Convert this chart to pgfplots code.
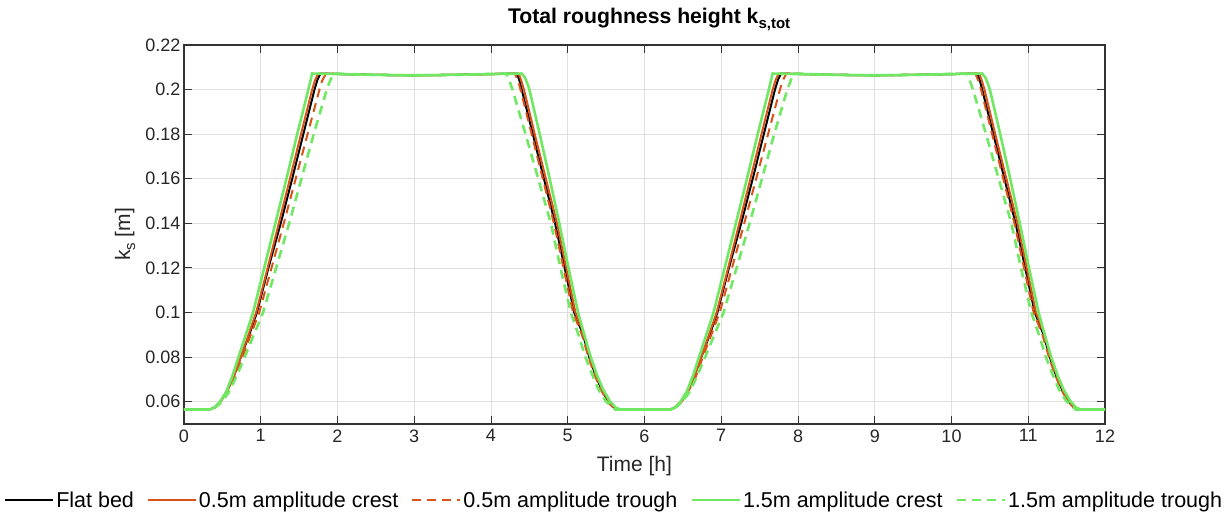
\documentclass[border=0pt]{standalone}
\usepackage{fontspec}
\setmainfont{Liberation Sans}
\usepackage{pgfplots}
\pgfplotsset{compat=1.18}
\definecolor{morange}{rgb}{0.85,0.325,0.098}
\definecolor{lgreen}{RGB}{112,232,100}
\definecolor{gridc}{RGB}{223,223,223}
\newcommand{\msub}[2]{\raisebox{-0.45ex}{\fontsize{#1}{#1}\selectfont #2}}
\begin{document}
\begin{tikzpicture}
\useasboundingbox (-184pt,-92pt) rectangle (1044pt,424pt);
\begin{axis}[
  at={(0,0)}, anchor=south west,
  scale only axis, width=921pt, height=379pt,
  xmin=0, xmax=12, ymin=0.05, ymax=0.22,
  xtick={0,1,2,3,4,5,6,7,8,9,10,11,12},
  ytick={0.06,0.08,0.10,0.12,0.14,0.16,0.18,0.20,0.22},
  yticklabels={0.06,0.08,0.1,0.12,0.14,0.16,0.18,0.2,0.22},
  /pgf/number format/assume math mode=true,
  grid=major, major grid style={draw=gridc, line width=0.8pt},
  tick align=inside, major tick length=8pt,
  axis line style={draw=black!80, line width=1.1pt},
  every tick/.style={draw=black!80, line width=1pt},
  ticklabel style={font=\fontsize{18}{20}\selectfont, text=black!85},
  xticklabel style={yshift=-2pt},
  xlabel={Time [h]},
  xlabel style={at={(axis description cs:0.489,-0.111)}, anchor=center, font=\fontsize{21}{23}\selectfont, text=black!85},
  ylabel={k\msub{15}{s} [m]},
  ylabel style={at={(axis description cs:-0.064,0.5)}, anchor=center, font=\fontsize{21}{23}\selectfont, text=black!85},
  title={\textbf{Total roughness height k\msub{15}{s,tot}}},
  title style={at={(axis description cs:0.505,1.040)}, anchor=base, font=\fontsize{21.2}{23}\selectfont},
  legend columns=5,
  legend style={draw=none, fill=none, at={(axis description cs:0.466,-0.2005)}, anchor=center,
    font=\fontsize{21.5}{23}\selectfont,
    nodes={inner xsep=0pt, inner ysep=1pt},
    /tikz/every odd column/.append style={column sep=2pt},
    /tikz/every even column/.append style={column sep=13pt}},
  legend image code/.code={\draw[#1] (0pt,0pt) -- (48pt,0pt);},
]
% Flat bed
\addplot[black, line width=2pt] coordinates {
(0,0.0565) (0.34,0.0565) (0.40,0.0575) (0.47,0.0598) (0.55,0.064) (0.64,0.0705) (0.74,0.080) (0.85,0.090) (0.95,0.100) (1.10,0.120) (1.26,0.140) (1.41,0.160) (1.555,0.180) (1.70,0.200) (1.74,0.2045) (1.78,0.2072)
(2.5,0.2066) (3.0,0.2064) (3.5,0.2066)
(4.34,0.2072) (4.37,0.204) (4.40,0.200) (4.545,0.180) (4.69,0.160) (4.835,0.140) (4.96,0.120) (5.085,0.100) (5.20,0.090) (5.28,0.080) (5.36,0.072) (5.44,0.0655) (5.52,0.0605) (5.59,0.0578) (5.64,0.0565)
(6.34,0.0565) (6.40,0.0575) (6.47,0.0598) (6.55,0.064) (6.64,0.0705) (6.74,0.080) (6.85,0.090) (6.95,0.100) (7.10,0.120) (7.26,0.140) (7.41,0.160) (7.555,0.180) (7.70,0.200) (7.74,0.2045) (7.78,0.2072)
(8.5,0.2066) (9.0,0.2064) (9.5,0.2066)
(10.34,0.2072) (10.37,0.204) (10.40,0.200) (10.545,0.180) (10.69,0.160) (10.835,0.140) (10.96,0.120) (11.085,0.100) (11.20,0.090) (11.28,0.080) (11.36,0.072) (11.44,0.0655) (11.52,0.0605) (11.59,0.0578) (11.64,0.0565) (12,0.0565)
};
\addlegendentry{Flat bed}
% 0.5m crest
\addplot[morange, line width=2pt] coordinates {
(0,0.0565) (0.34,0.0565) (0.40,0.0575) (0.47,0.0598) (0.55,0.064) (0.64,0.0705) (0.74,0.080) (0.84,0.090) (0.94,0.100) (1.09,0.120) (1.235,0.140) (1.38,0.160) (1.525,0.180) (1.67,0.200) (1.71,0.2045) (1.75,0.2072)
(2.5,0.2066) (3.0,0.2064) (3.5,0.2066)
(4.36,0.2072) (4.395,0.204) (4.43,0.200) (4.57,0.180) (4.715,0.160) (4.86,0.140) (4.98,0.120) (5.10,0.100) (5.215,0.090) (5.29,0.080) (5.37,0.072) (5.45,0.0655) (5.53,0.0605) (5.60,0.0578) (5.65,0.0565)
(6.34,0.0565) (6.40,0.0575) (6.47,0.0598) (6.55,0.064) (6.64,0.0705) (6.74,0.080) (6.84,0.090) (6.94,0.100) (7.09,0.120) (7.235,0.140) (7.38,0.160) (7.525,0.180) (7.67,0.200) (7.71,0.2045) (7.75,0.2072)
(8.5,0.2066) (9.0,0.2064) (9.5,0.2066)
(10.36,0.2072) (10.395,0.204) (10.43,0.200) (10.57,0.180) (10.715,0.160) (10.86,0.140) (10.98,0.120) (11.10,0.100) (11.215,0.090) (11.29,0.080) (11.37,0.072) (11.45,0.0655) (11.53,0.0605) (11.60,0.0578) (11.65,0.0565) (12,0.0565)
};
\addlegendentry{0.5m amplitude crest}
% 0.5m trough
\addplot[morange, line width=2pt, dash pattern=on 9pt off 6pt] coordinates {
(0,0.0565) (0.34,0.0565) (0.41,0.0575) (0.48,0.0598) (0.56,0.064) (0.66,0.0705) (0.76,0.080) (0.87,0.090) (0.98,0.100) (1.14,0.120) (1.30,0.140) (1.455,0.160) (1.61,0.180) (1.765,0.200) (1.80,0.204) (1.85,0.2072)
(2.5,0.2066) (3.0,0.2064) (3.5,0.2066)
(4.31,0.2072) (4.35,0.204) (4.385,0.200) (4.53,0.180) (4.675,0.160) (4.82,0.140) (4.945,0.120) (5.07,0.100) (5.185,0.090) (5.27,0.080) (5.35,0.072) (5.43,0.0655) (5.51,0.0605) (5.58,0.0578) (5.64,0.0565)
(6.34,0.0565) (6.41,0.0575) (6.48,0.0598) (6.56,0.064) (6.66,0.0705) (6.76,0.080) (6.87,0.090) (6.98,0.100) (7.14,0.120) (7.30,0.140) (7.455,0.160) (7.61,0.180) (7.765,0.200) (7.80,0.204) (7.85,0.2072)
(8.5,0.2066) (9.0,0.2064) (9.5,0.2066)
(10.31,0.2072) (10.35,0.204) (10.385,0.200) (10.53,0.180) (10.675,0.160) (10.82,0.140) (10.945,0.120) (11.07,0.100) (11.185,0.090) (11.27,0.080) (11.35,0.072) (11.43,0.0655) (11.51,0.0605) (11.58,0.0578) (11.64,0.0565) (12,0.0565)
};
\addlegendentry{0.5m amplitude trough}
% 1.5m crest
\addplot[lgreen, line width=2.6pt] coordinates {
(0,0.0565) (0.34,0.0565) (0.40,0.0575) (0.47,0.060) (0.55,0.0645) (0.63,0.0715) (0.71,0.080) (0.80,0.0895) (0.90,0.100) (1.045,0.120) (1.19,0.140) (1.335,0.160) (1.475,0.180) (1.62,0.200) (1.67,0.2072)
(2.5,0.2066) (3.0,0.2064) (3.5,0.2066)
(4.40,0.2072) (4.44,0.2055) (4.47,0.203) (4.50,0.200) (4.635,0.180) (4.765,0.160) (4.89,0.140) (5.01,0.120) (5.135,0.100) (5.215,0.090) (5.30,0.080) (5.38,0.072) (5.46,0.0655) (5.55,0.0602) (5.62,0.0575) (5.68,0.0565)
(6.34,0.0565) (6.40,0.0575) (6.47,0.060) (6.55,0.0645) (6.63,0.0715) (6.71,0.080) (6.80,0.0895) (6.90,0.100) (7.045,0.120) (7.19,0.140) (7.335,0.160) (7.475,0.180) (7.62,0.200) (7.67,0.2072)
(8.5,0.2066) (9.0,0.2064) (9.5,0.2066)
(10.40,0.2072) (10.44,0.2055) (10.47,0.203) (10.50,0.200) (10.635,0.180) (10.765,0.160) (10.89,0.140) (11.01,0.120) (11.135,0.100) (11.215,0.090) (11.30,0.080) (11.38,0.072) (11.46,0.0655) (11.55,0.0602) (11.62,0.0575) (11.68,0.0565) (12,0.0565)
};
\addlegendentry{1.5m amplitude crest}
% 1.5m trough
\addplot[lgreen, line width=2.6pt, dash pattern=on 9pt off 6pt] coordinates {
(0,0.0565) (0.34,0.0565) (0.41,0.0575) (0.49,0.0598) (0.58,0.064) (0.68,0.071) (0.79,0.080) (0.91,0.090) (1.03,0.100) (1.20,0.120) (1.37,0.140) (1.53,0.160) (1.69,0.180) (1.86,0.200) (1.91,0.2045) (1.95,0.2072)
(2.5,0.2066) (3.0,0.2064) (3.5,0.2066)
(4.20,0.2072) (4.25,0.203) (4.28,0.200) (4.45,0.180) (4.615,0.160) (4.78,0.140) (4.905,0.120) (5.04,0.100) (5.14,0.090) (5.23,0.080) (5.32,0.072) (5.40,0.0655) (5.49,0.0605) (5.57,0.0578) (5.62,0.0565)
(6.34,0.0565) (6.41,0.0575) (6.49,0.0598) (6.58,0.064) (6.68,0.071) (6.79,0.080) (6.91,0.090) (7.03,0.100) (7.20,0.120) (7.37,0.140) (7.53,0.160) (7.69,0.180) (7.86,0.200) (7.91,0.2045) (7.95,0.2072)
(8.5,0.2066) (9.0,0.2064) (9.5,0.2066)
(10.20,0.2072) (10.25,0.203) (10.28,0.200) (10.45,0.180) (10.615,0.160) (10.78,0.140) (10.905,0.120) (11.04,0.100) (11.14,0.090) (11.23,0.080) (11.32,0.072) (11.40,0.0655) (11.49,0.0605) (11.57,0.0578) (11.62,0.0565) (12,0.0565)
};
\addlegendentry{1.5m amplitude trough}
\end{axis}
\end{tikzpicture}
\end{document}
